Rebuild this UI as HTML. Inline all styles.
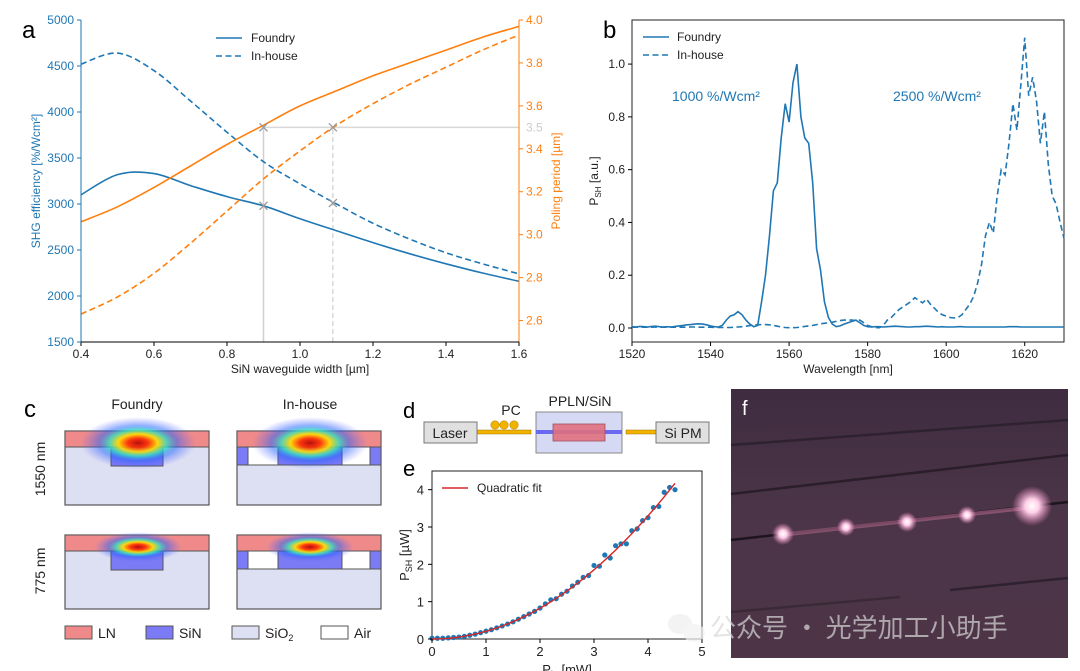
<!DOCTYPE html>
<html><head><meta charset="utf-8">
<style>
html,body{margin:0;padding:0;background:#fff;}
svg{display:block;font-family:"Liberation Sans","DejaVu Sans","Noto Sans CJK SC",sans-serif;}
</style></head>
<body>
<svg id="fig" width="1080" height="671" viewBox="0 0 1080 671" xmlns="http://www.w3.org/2000/svg">
<defs>
<radialGradient id="modeA" cx="0.5" cy="0.5" r="0.5">
<stop offset="0" stop-color="#b00000"/><stop offset="0.18" stop-color="#ff3000"/><stop offset="0.34" stop-color="#ffe000"/><stop offset="0.5" stop-color="#30e0c0" stop-opacity="0.9"/><stop offset="0.68" stop-color="#2060ff" stop-opacity="0.55"/><stop offset="1" stop-color="#6060ff" stop-opacity="0"/>
</radialGradient>
<radialGradient id="glow" cx="0.5" cy="0.5" r="0.5">
<stop offset="0" stop-color="#fff"/><stop offset="0.35" stop-color="#ffd0e8"/><stop offset="1" stop-color="#ff90d0" stop-opacity="0"/>
</radialGradient>
<linearGradient id="photoBg" x1="0" y1="0" x2="0" y2="1">
<stop offset="0" stop-color="#3f2c40"/><stop offset="0.5" stop-color="#4c3548"/><stop offset="1" stop-color="#4d3547"/>
</linearGradient>
</defs>
<g id="panelA"></g>
<g id="panelB"></g>
<g id="panelC"></g>
<g id="panelD"></g>
<g id="panelE"></g>
<g id="panelF"></g>
</svg>
<script>
// ---------- Panel a data ----------
const aWidths = [0.4,0.5,0.6,0.7,0.8,0.9,1.0,1.1,1.2,1.3,1.4,1.5,1.6];
const aEffFoundry = [3100,3320,3330,3200,3080,2980,2840,2710,2580,2460,2350,2250,2160];
const aEffInhouse = [4520,4640,4450,4120,3780,3460,3220,3000,2790,2620,2470,2350,2240];
const aPerFoundry = [3.06,3.13,3.22,3.32,3.42,3.51,3.60,3.67,3.74,3.80,3.86,3.92,3.97];
const aPerInhouse = [2.63,2.71,2.82,2.96,3.11,3.26,3.39,3.51,3.61,3.70,3.78,3.86,3.93];
const aXTicks = [0.4,0.6,0.8,1.0,1.2,1.4,1.6];
const aYTicks = [1500,2000,2500,3000,3500,4000,4500,5000];
const aY2Ticks = [2.6,2.8,3.0,3.2,3.4,3.6,3.8,4.0];
const aMarkX = [0.9,1.09];
const aMarkEff = [2980,3010];
const aTargetPeriod = 3.5;
// ---------- Panel b data ----------
const bWl = [];
for(let w=1520; w<=1630; w++) bWl.push(w);
const bFoundry = [0.005,0.004,0.006,0.005,0.004,0.006,0.007,0.005,0.004,0.005,0.004,0.006,0.008,0.01,0.012,0.013,0.015,0.016,0.015,0.012,0.008,0.005,0.004,0.01,0.03,0.045,0.05,0.062,0.05,0.03,0.015,0.005,0.01,0.1,0.2,0.35,0.52,0.55,0.72,0.85,0.78,0.93,1.0,0.8,0.72,0.7,0.55,0.3,0.22,0.1,0.04,0.015,0.005,0.008,0.015,0.02,0.025,0.03,0.02,0.01,0.005,0.004,0.005,0.005,0.004,0.005,0.006,0.007,0.006,0.005,0.004,0.004,0.005,0.005,0.006,0.007,0.006,0.005,0.004,0.005,0.004,0.004,0.004,0.005,0.005,0.004,0.004,0.004,0.004,0.004,0.004,0.004,0.004,0.004,0.004,0.004,0.005,0.005,0.005,0.004,0.004,0.004,0.004,0.004,0.004,0.004,0.004,0.004,0.004,0.004,0.004];
const bInhouse = [0.003,0.003,0.004,0.003,0.003,0.003,0.004,0.003,0.003,0.003,0.003,0.003,0.003,0.003,0.003,0.004,0.004,0.003,0.003,0.003,0.003,0.002,0.002,0.002,0.002,0.002,0.003,0.004,0.005,0.007,0.009,0.011,0.012,0.013,0.013,0.012,0.01,0.007,0.004,0.002,0.001,0.001,0.002,0.004,0.006,0.008,0.01,0.013,0.016,0.018,0.02,0.022,0.025,0.028,0.03,0.03,0.03,0.028,0.03,0.02,0.01,0.005,0.002,0.001,0.01,0.03,0.04,0.055,0.07,0.08,0.09,0.1,0.115,0.105,0.095,0.11,0.09,0.075,0.06,0.05,0.045,0.04,0.038,0.04,0.05,0.07,0.09,0.12,0.17,0.24,0.35,0.4,0.36,0.5,0.6,0.58,0.7,0.85,0.75,0.92,1.1,0.88,0.95,0.86,0.7,0.82,0.62,0.5,0.47,0.4,0.34];
const bXTicks = [1520,1540,1560,1580,1600,1620];
const bYTicks = [0.0,0.2,0.4,0.6,0.8,1.0];
// ---------- Panel e data ----------
const ePin = [0,0.1,0.2,0.3,0.4,0.5,0.6,0.7,0.8,0.9,1.0,1.1,1.2,1.3,1.4,1.5,1.6,1.7,1.8,1.9,2.0,2.1,2.2,2.3,2.4,2.5,2.6,2.7,2.8,2.9,3.0,3.1,3.2,3.3,3.4,3.5,3.6,3.7,3.8,3.9,4.0,4.1,4.2,4.3,4.4,4.5];
const ePsh = [0.02,0.02,0.02,0.03,0.04,0.05,0.07,0.10,0.13,0.17,0.21,0.25,0.30,0.35,0.40,0.46,0.53,0.60,0.67,0.74,0.83,0.94,1.05,1.08,1.20,1.28,1.42,1.52,1.65,1.70,1.97,1.95,2.25,2.17,2.50,2.55,2.55,2.90,2.95,3.17,3.25,3.52,3.55,3.93,4.06,4.00];
const eFitCoef = [0.206];
const eXTicks = [0,1,2,3,4,5];
const eYTicks = [0,1,2,3,4];

const NS="http://www.w3.org/2000/svg";
function mk(parent,tag,attrs,text){const e=document.createElementNS(NS,tag);for(const k in attrs)e.setAttribute(k,attrs[k]);if(text!==undefined)e.textContent=text;parent.appendChild(e);return e;}
function smooth(pts){let d="M"+pts[0][0].toFixed(1)+","+pts[0][1].toFixed(1);for(let i=0;i<pts.length-1;i++){const p0=pts[Math.max(0,i-1)],p1=pts[i],p2=pts[i+1],p3=pts[Math.min(pts.length-1,i+2)];const c1=[p1[0]+(p2[0]-p0[0])/6,p1[1]+(p2[1]-p0[1])/6],c2=[p2[0]-(p3[0]-p1[0])/6,p2[1]-(p3[1]-p1[1])/6];d+="C"+c1[0].toFixed(1)+","+c1[1].toFixed(1)+" "+c2[0].toFixed(1)+","+c2[1].toFixed(1)+" "+p2[0].toFixed(1)+","+p2[1].toFixed(1);}return d;}
function poly(pts){return "M"+pts.map(p=>p[0].toFixed(1)+","+p[1].toFixed(1)).join("L");}
const BLUE="#1f77b4",ORANGE="#ff7f0e";

// ================= Panel A =================
(function(){
const g=document.getElementById('panelA');
const L=81,R=519,T=20,B=342;
const x=v=>L+(v-0.4)/(1.2)*(R-L);
const y=v=>B-(v-1500)/3500*(B-T);
const y2=v=>B-(v-2.5)/1.5*(B-T);
let e;
e=mk(g,'line',{x1:x(aMarkX[0]),y1:B,x2:x(aMarkX[0]),y2:y2(aTargetPeriod),stroke:'#d0d0d0','stroke-width':1.5});

e=mk(g,'line',{x1:x(aMarkX[1]),y1:B,x2:x(aMarkX[1]),y2:y2(aTargetPeriod),stroke:'#d8d8d8','stroke-width':1.5,'stroke-dasharray':'5,3'});

e=mk(g,'line',{x1:x(aMarkX[0]),y1:y2(aTargetPeriod),x2:R,y2:y2(aTargetPeriod),stroke:'#d8d8d8','stroke-width':1.5});

const series=[[aEffFoundry,y,BLUE,null,'efficiency-foundry'],[aEffInhouse,y,BLUE,'6,3.5','efficiency-inhouse'],[aPerFoundry,y2,ORANGE,null,'period-foundry'],[aPerInhouse,y2,ORANGE,'6,3.5','period-inhouse']];
series.forEach(s=>{const pts=aWidths.map((w,i)=>[x(w),s[1](s[0][i])]);const p=mk(g,'path',{d:smooth(pts),fill:'none',stroke:s[2],'stroke-width':1.6});if(s[3])p.setAttribute('stroke-dasharray',s[3]);
});
const mpts=[[x(aMarkX[0]),y2(aTargetPeriod)],[x(aMarkX[1]),y2(aTargetPeriod)],[x(aMarkX[0]),y(aMarkEff[0])],[x(aMarkX[1]),y(aMarkEff[1])]];
mpts.forEach((p,i)=>{const m=mk(g,'path',{d:`M${p[0]-4},${p[1]-4}L${p[0]+4},${p[1]+4}M${p[0]-4},${p[1]+4}L${p[0]+4},${p[1]-4}`,stroke:'#999','stroke-width':1.3,fill:'none'});
});
mk(g,'line',{x1:L,y1:T,x2:L,y2:B,stroke:BLUE,'stroke-width':1});
mk(g,'line',{x1:R,y1:T,x2:R,y2:B,stroke:ORANGE,'stroke-width':1});
mk(g,'line',{x1:L,y1:B,x2:R,y2:B,stroke:'#000','stroke-width':1});
aXTicks.forEach(v=>{mk(g,'line',{x1:x(v),y1:B,x2:x(v),y2:B+4,stroke:'#000'});const t=mk(g,'text',{x:x(v),y:B+16,'font-size':12,'text-anchor':'middle',fill:'#222'},v.toFixed(1));});
aYTicks.forEach(v=>{mk(g,'line',{x1:L,y1:y(v),x2:L-4,y2:y(v),stroke:BLUE});const t=mk(g,'text',{x:L-7,y:y(v)+4,'font-size':12,'text-anchor':'end',fill:BLUE},String(v));});
aY2Ticks.forEach(v=>{mk(g,'line',{x1:R,y1:y2(v),x2:R+4,y2:y2(v),stroke:ORANGE});const t=mk(g,'text',{x:R+7,y:y2(v)+4,'font-size':12,fill:ORANGE},v.toFixed(1));});
mk(g,'text',{x:R+7,y:y2(3.5)+4,'font-size':12,fill:'#ccc'},'3.5');
let t=mk(g,'text',{x:300,y:373,'font-size':12,'text-anchor':'middle',fill:'#222'},'SiN waveguide width [µm]');

t=mk(g,'text',{x:0,y:0,'font-size':12,'text-anchor':'middle',fill:BLUE,transform:`translate(40,${(T+B)/2}) rotate(-90)`},'SHG efficiency [%/Wcm²]');

t=mk(g,'text',{x:0,y:0,'font-size':12,'text-anchor':'middle',fill:ORANGE,transform:`translate(560,${(T+B)/2}) rotate(-90)`},'Poling period [µm]');

t=mk(g,'text',{x:22,y:38,'font-size':24,fill:'#000'},'a');
mk(g,'line',{x1:216,y1:38,x2:242,y2:38,stroke:BLUE,'stroke-width':1.6});
mk(g,'line',{x1:216,y1:56,x2:242,y2:56,stroke:BLUE,'stroke-width':1.6,'stroke-dasharray':'6,3.5'});
t=mk(g,'text',{x:251,y:42,'font-size':12,fill:'#222'},'Foundry');
t=mk(g,'text',{x:251,y:60,'font-size':12,fill:'#222'},'In-house');
})();

// ================= Panel B =================
(function(){
const g=document.getElementById('panelB');
const L=632,R=1064,T=20,B=342;
const x=v=>L+(v-1520)/110*(R-L);
const y=v=>B-(v+0.053)/1.22*(B-T);
mk(g,'rect',{x:L,y:T,width:R-L,height:B-T,fill:'none',stroke:'#222','stroke-width':1});
const pf=mk(g,'path',{d:poly(bWl.map((w,i)=>[x(w),y(bFoundry[i])])),fill:'none',stroke:BLUE,'stroke-width':1.6});

const pi=mk(g,'path',{d:poly(bWl.map((w,i)=>[x(w),y(bInhouse[i])])),fill:'none',stroke:BLUE,'stroke-width':1.6,'stroke-dasharray':'6,3.5'});

bXTicks.forEach(v=>{mk(g,'line',{x1:x(v),y1:B,x2:x(v),y2:B+4,stroke:'#000'});const t=mk(g,'text',{x:x(v),y:B+16,'font-size':12,'text-anchor':'middle',fill:'#222'},String(v));});
bYTicks.forEach(v=>{mk(g,'line',{x1:L,y1:y(v),x2:L-4,y2:y(v),stroke:'#000'});const t=mk(g,'text',{x:L-7,y:y(v)+4,'font-size':12,'text-anchor':'end',fill:'#222'},v.toFixed(1));});
let t=mk(g,'text',{x:(L+R)/2,y:373,'font-size':12,'text-anchor':'middle',fill:'#222'},'Wavelength [nm]');
t=mk(g,'text',{x:0,y:0,'font-size':12,'text-anchor':'middle',fill:'#222',transform:`translate(598,${(T+B)/2}) rotate(-90)`});
t.innerHTML='P<tspan font-size="8" dy="3">SH</tspan><tspan dy="-3"> [a.u.]</tspan>';
t=mk(g,'text',{x:603,y:38,'font-size':24,fill:'#000'},'b');
t=mk(g,'text',{x:672,y:101,'font-size':14,fill:BLUE},'1000 %/Wcm²');
t=mk(g,'text',{x:893,y:101,'font-size':14,fill:BLUE},'2500 %/Wcm²');
mk(g,'line',{x1:643,y1:37,x2:669,y2:37,stroke:BLUE,'stroke-width':1.6});
mk(g,'line',{x1:643,y1:55,x2:669,y2:55,stroke:BLUE,'stroke-width':1.6,'stroke-dasharray':'6,3.5'});
t=mk(g,'text',{x:677,y:41,'font-size':12,fill:'#222'},'Foundry');
t=mk(g,'text',{x:677,y:59,'font-size':12,fill:'#222'},'In-house');
})();

// ================= Panel C =================
(function(){
const g=document.getElementById('panelC');
const LN="#f08a8a",SIN="#7b7bf5",SIO="#dde0f3",ST="#555";
function wg(x0,y0,inhouse,big,name){
  const sub=mk(g,'g',{});
  mk(sub,'rect',{x:x0,y:y0,width:144,height:74,fill:SIO,stroke:ST,'stroke-width':1.2});
  if(inhouse){
    mk(sub,'rect',{x:x0,y:y0+16,width:11,height:18,fill:SIN,stroke:ST,'stroke-width':1});
    mk(sub,'rect',{x:x0+133,y:y0+16,width:11,height:18,fill:SIN,stroke:ST,'stroke-width':1});
    mk(sub,'rect',{x:x0+11,y:y0+16,width:30,height:18,fill:'#fff',stroke:ST,'stroke-width':1});
    mk(sub,'rect',{x:x0+105,y:y0+16,width:28,height:18,fill:'#fff',stroke:ST,'stroke-width':1});
    mk(sub,'rect',{x:x0+41,y:y0+16,width:64,height:18,fill:SIN,stroke:ST,'stroke-width':1});
  } else {
    mk(sub,'rect',{x:x0+46,y:y0+16,width:52,height:19,fill:SIN,stroke:ST,'stroke-width':1});
  }
  mk(sub,'rect',{x:x0,y:y0,width:144,height:16,fill:LN,stroke:ST,'stroke-width':1});
  const rx=big?58:44, ry=big?26:15;
  mk(sub,'ellipse',{cx:x0+73,cy:y0+12,rx:rx,ry:ry,fill:'url(#modeA)','fill-opacity':0.9});
}
wg(65,431,false,true,'mode-foundry-1550');
wg(237,431,true,true,'mode-inhouse-1550');
wg(65,535,false,false,'mode-foundry-775');
wg(237,535,true,false,'mode-inhouse-775');
let t=mk(g,'text',{x:137,y:409,'font-size':14,'text-anchor':'middle',fill:'#222'},'Foundry');
t=mk(g,'text',{x:310,y:409,'font-size':14,'text-anchor':'middle',fill:'#222'},'In-house');
t=mk(g,'text',{x:0,y:0,'font-size':14,'text-anchor':'middle',fill:'#222',transform:'translate(45,469) rotate(-90)'},'1550 nm');
t=mk(g,'text',{x:0,y:0,'font-size':14,'text-anchor':'middle',fill:'#222',transform:'translate(45,571) rotate(-90)'},'775 nm');
t=mk(g,'text',{x:24,y:417,'font-size':24,fill:'#000'},'c');
const leg=[[65,LN,'LN'],[146,SIN,'SiN'],[232,SIO,'SiO'],[321,'#fff','Air']];
leg.forEach(l=>{mk(g,'rect',{x:l[0],y:626,width:27,height:13,fill:l[1],stroke:ST,'stroke-width':1});const tt=mk(g,'text',{x:l[0]+33,y:638,'font-size':14,fill:'#222'},l[2]);if(l[2]==='SiO'){mk(tt,'tspan',{'font-size':9,dy:3},'2');}
});
})();

// ================= Panel D =================
(function(){
const g=document.getElementById('panelD');
const GOLD="#f0b400";
let t=mk(g,'text',{x:403,y:418,'font-size':22,fill:'#000'},'d');
mk(g,'rect',{x:477,y:430,width:54,height:4,fill:GOLD,stroke:'#a07000','stroke-width':0.5});
mk(g,'rect',{x:626,y:430,width:30,height:4,fill:GOLD,stroke:'#a07000','stroke-width':0.5});
[495,504,514].forEach(cx=>mk(g,'circle',{cx:cx,cy:425,r:4.2,fill:GOLD,stroke:'#c08800','stroke-width':0.6}));
let r=mk(g,'rect',{x:424,y:422,width:53,height:21,fill:'#e0e0e0',stroke:'#777','stroke-width':1});
mk(g,'text',{x:450,y:438,'font-size':14,'text-anchor':'middle',fill:'#222'},'Laser');
r=mk(g,'rect',{x:656,y:422,width:53,height:21,fill:'#e0e0e0',stroke:'#777','stroke-width':1});
mk(g,'text',{x:683,y:438,'font-size':14,'text-anchor':'middle',fill:'#222'},'Si PM');
r=mk(g,'rect',{x:536,y:412,width:86,height:41,fill:'#d5d9f3',stroke:'#888','stroke-width':1});
mk(g,'rect',{x:536,y:430,width:86,height:4,fill:'#6a6af0'});
mk(g,'rect',{x:553,y:424,width:52,height:17,fill:'#e07080',stroke:'#a05060','stroke-width':0.8,'fill-opacity':0.9});
mk(g,'text',{x:511,y:415,'font-size':14,'text-anchor':'middle',fill:'#222'},'PC');
mk(g,'text',{x:580,y:406,'font-size':14,'text-anchor':'middle',fill:'#222'},'PPLN/SiN');
})();

// ================= Panel E =================
(function(){
const g=document.getElementById('panelE');
const L=432,R=702,T=471,B=639;
const x=v=>L+v/5*(R-L);
const y=v=>B-v/4.5*(B-T);
mk(g,'rect',{x:L,y:T,width:R-L,height:B-T,fill:'none',stroke:'#222','stroke-width':1});
ePin.forEach((p,i)=>{const c=mk(g,'circle',{cx:x(p),cy:y(ePsh[i]),r:2.6,fill:BLUE});});
const fp=[];for(let i=0;i<=45;i++){const v=i*0.1;fp.push([x(v),y(eFitCoef[0]*v*v)]);}
const f=mk(g,'path',{d:poly(fp),fill:'none',stroke:'#d62728','stroke-width':1.4});
eXTicks.forEach(v=>{mk(g,'line',{x1:x(v),y1:B,x2:x(v),y2:B+4,stroke:'#000'});const t=mk(g,'text',{x:x(v),y:B+17,'font-size':13,'text-anchor':'middle',fill:'#222'},String(v));});
eYTicks.forEach(v=>{mk(g,'line',{x1:L,y1:y(v),x2:L-4,y2:y(v),stroke:'#000'});const t=mk(g,'text',{x:L-8,y:y(v)+5,'font-size':13,'text-anchor':'end',fill:'#222'},String(v));});
let t=mk(g,'text',{x:0,y:0,'font-size':13,'text-anchor':'middle',fill:'#222',transform:`translate(409,${(T+B)/2}) rotate(-90)`});t.innerHTML='P<tspan font-size="9" dy="3">SH</tspan><tspan dy="-3"> [µW]</tspan>';

t=mk(g,'text',{x:567,y:674,'font-size':13,'text-anchor':'middle',fill:'#222'});t.innerHTML='P<tspan font-size="9" dy="3">in</tspan><tspan dy="-3"> [mW]</tspan>';

t=mk(g,'text',{x:403,y:476,'font-size':22,fill:'#000'},'e');
mk(g,'line',{x1:442,y1:488,x2:468,y2:488,stroke:'#d62728','stroke-width':1.6});
t=mk(g,'text',{x:477,y:492,'font-size':12,fill:'#222'},'Quadratic fit');
})();

// ================= Panel F =================
(function(){
const g=document.getElementById('panelF');
let r=mk(g,'rect',{x:731,y:389,width:337,height:269,fill:'url(#photoBg)'});
[[731,445,1068,420,'#2f2230'],[731,494,1068,455,'#2a1e2a'],[731,540,1068,502,'#1e141e'],[950,590,1068,578,'#2f2230'],[731,612,900,597,'#3a2a38']].forEach(l=>{mk(g,'line',{x1:l[0],y1:l[1],x2:l[2],y2:l[3],stroke:l[4],'stroke-width':2.5});});
mk(g,'line',{x1:780,y1:535,x2:1035,y2:507,stroke:'#a06080','stroke-width':4,'stroke-opacity':0.7});
[[783,534,11],[846,527,9],[907,522,10],[967,515,9],[1032,506,20]].forEach(s=>{const c=mk(g,'circle',{cx:s[0],cy:s[1],r:s[2],fill:'url(#glow)'});});
let t=mk(g,'text',{x:742,y:415,'font-size':20,fill:'#fff'},'f');
const wm=mk(g,'g',{opacity:0.7});
mk(wm,'ellipse',{cx:680,cy:624,rx:12,ry:10,fill:'#eee'});mk(wm,'ellipse',{cx:694,cy:633,rx:11,ry:9,fill:'#f2f2f2'});
mk(wm,'text',{x:710,y:637,'font-size':26,fill:'#d8d8d8','font-family':'"Noto Sans CJK SC","WenQuanYi Zen Hei",sans-serif'},'公众号 · 光学加工小助手');
})();
</script>
</body></html>
